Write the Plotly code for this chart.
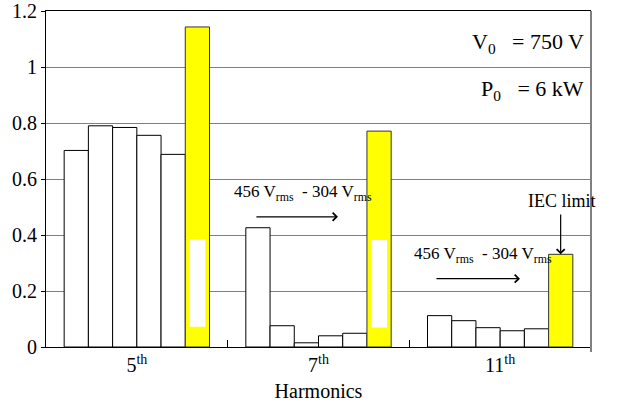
import plotly.graph_objects as go

# ---- data ----
harmonics = ["5<sup>th</sup>", "7<sup>th</sup>", "11<sup>th</sup>"]
xpos = [0, 1, 2]
bar1 = [0.702, 0.426, 0.112]
bar2 = [0.790, 0.076, 0.094]
bar3 = [0.784, 0.015, 0.069]
bar4 = [0.756, 0.040, 0.058]
bar5 = [0.688, 0.049, 0.065]
iec_limit = [1.143, 0.771, 0.331]
white_base = [0.072, 0.070, None]
white_top = [0.385, 0.382, None]
y_ticks = [0, 0.2, 0.4, 0.6, 0.8, 1.0, 1.2]

FONT = "Liberation Serif"
group_w = 0.8
n_bars = 6
bw = group_w / n_bars

fig = go.Figure()
series = [bar1, bar2, bar3, bar4, bar5]
for k, vals in enumerate(series):
    fig.add_trace(go.Bar(
        x=xpos, y=vals, width=bw, offset=-group_w / 2 + k * bw,
        marker=dict(color="white", line=dict(color="black", width=1)),
        showlegend=False))
fig.add_trace(go.Bar(
    x=xpos, y=iec_limit, width=bw, offset=-group_w / 2 + 5 * bw,
    marker=dict(color="#FFFF00", line=dict(color="#333333", width=1)),
    showlegend=False))
# white inner patches inside the yellow bars
ww = 0.088
inner_h = [None if b is None else t - b for b, t in zip(white_base, white_top)]
fig.add_trace(go.Bar(
    x=xpos, y=inner_h, base=white_base, width=ww,
    offset=-group_w / 2 + 5.5 * bw - ww / 2,
    marker=dict(color="white", line=dict(width=0)),
    showlegend=False))

fig.update_layout(
    barmode="overlay",
    width=618, height=405,
    margin=dict(l=46, r=27, t=11, b=58, autoexpand=False),
    paper_bgcolor="white", plot_bgcolor="white",
    font=dict(family=FONT, size=18, color="black"),
    xaxis=dict(
        range=[-0.5, 2.5], tickmode="array", tickvals=xpos, ticktext=harmonics,
        ticks="", showgrid=False, zeroline=False, automargin=False,
        showline=True, linecolor="black", linewidth=1, mirror=True,
        minor=dict(tickmode="array", tickvals=[0.5, 1.5, 2.5], ticks="inside",
                   ticklen=7, tickcolor="black", showgrid=False),
        title=dict(text="Harmonics", font=dict(family=FONT, size=20), standoff=8),
        tickfont=dict(family=FONT, size=20),
    ),
    yaxis=dict(
        range=[0, 1.2], tickmode="array", tickvals=y_ticks,
        ticks="outside", ticklen=4, tickcolor="black", automargin=False,
        showgrid=True, gridcolor="#808080", gridwidth=1, zeroline=False,
        showline=True, linecolor="black", linewidth=1,
        tickfont=dict(family=FONT, size=20),
    ),
    shapes=[dict(type="line", xref="paper", yref="paper", x0=1, x1=1, y0=-0.015, y1=1,
                 line=dict(color="#808080", width=2))],
)

f = dict(family=FONT, size=22)
ann = []
ann.append(dict(xref="paper", yref="y", x=0.99, y=1.086, xanchor="right", yanchor="middle",
                text="V<sub>0</sub>\u00a0\u00a0\u00a0= 750 V", showarrow=False, font=f))
ann.append(dict(xref="paper", yref="y", x=0.99, y=0.918, xanchor="right", yanchor="middle",
                text="P<sub>0</sub>\u00a0\u00a0\u00a0= 6 kW", showarrow=False, font=f))
label = "456 V<sub>rms</sub>\u00a0\u00a0- 304 V<sub>rms</sub>"
f17 = dict(family=FONT, size=17)
ann.append(dict(x=0.524, y=0.55, xanchor="left", yanchor="middle", text=label,
                showarrow=False, font=f17))
ann.append(dict(x=1.515, y=0.33, xanchor="left", yanchor="middle", text=label,
                showarrow=False, font=f17))
ann.append(dict(x=2.34, y=0.52, xanchor="center", yanchor="middle", text="IEC limit",
                showarrow=False, font=dict(family=FONT, size=18)))
# arrows
ann.append(dict(x=1.107, y=0.465, ax=0.650, ay=0.465, axref="x", ayref="y", text="",
                showarrow=True, arrowhead=4, arrowsize=1.3, arrowwidth=1.2, arrowcolor="black"))
ann.append(dict(x=2.109, y=0.244, ax=1.641, ay=0.244, axref="x", ayref="y", text="",
                showarrow=True, arrowhead=4, arrowsize=1.3, arrowwidth=1.2, arrowcolor="black"))
ann.append(dict(x=2.333, y=iec_limit[2], ax=2.333, ay=0.479, axref="x", ayref="y", text="",
                showarrow=True, arrowhead=4, arrowsize=1.3, arrowwidth=1.2, arrowcolor="black"))
fig.update_layout(annotations=ann)

fig.write_html("out.html", config={"displayModeBar": False},
               post_script="document.body.style.margin='0';")
